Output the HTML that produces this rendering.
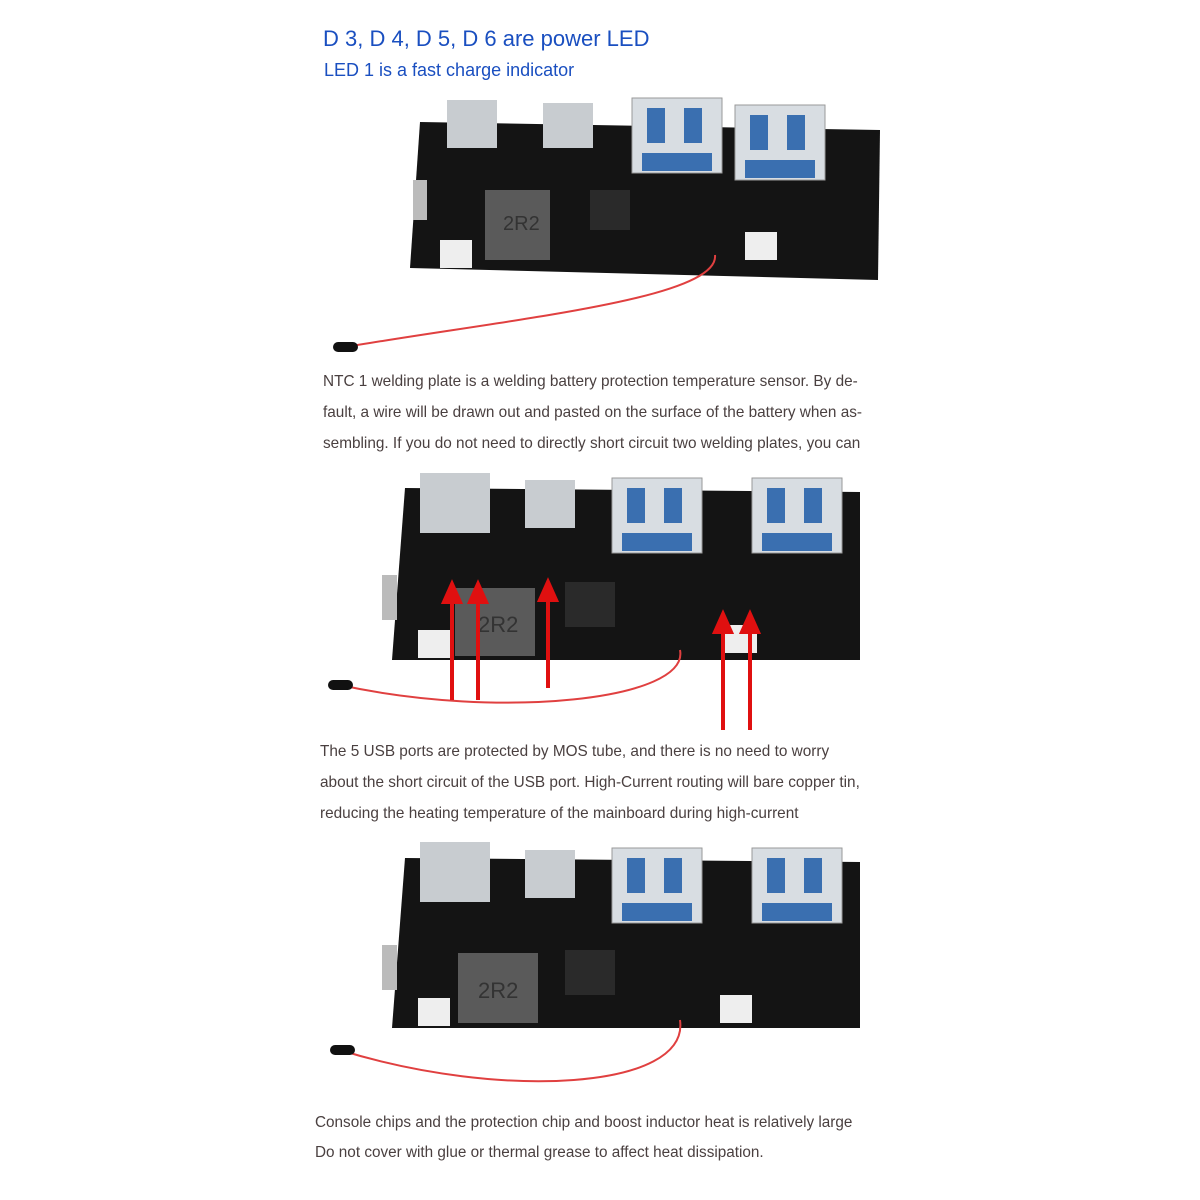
<!DOCTYPE html>
<html><head><meta charset="utf-8"><style>
body{margin:0;background:#fff;width:1200px;height:1200px;overflow:hidden;position:relative;font-family:"Liberation Sans",sans-serif}
.t{position:absolute;color:#4a4040;font-size:15.35px;white-space:nowrap}
</style></head><body>
<svg width="1200" height="1200" style="position:absolute;left:0;top:0">
<defs>
<g id="port">
<rect x="0" y="0" width="90" height="75" fill="#d8dde2" stroke="#999"/>
<rect x="15" y="10" width="18" height="35" fill="#3a6fb0"/><rect x="52" y="10" width="18" height="35" fill="#3a6fb0"/>
<rect x="10" y="55" width="70" height="18" fill="#3a6fb0"/>
</g>
</defs>
<!-- board 1 -->
<polygon points="420,122 880,130 878,280 410,268" fill="#141414"/>
<rect x="447" y="100" width="50" height="48" fill="#c8ccd0"/>
<rect x="543" y="103" width="50" height="45" fill="#c8ccd0"/>
<use href="#port" x="632" y="98"/>
<use href="#port" x="735" y="105"/>
<rect x="485" y="190" width="65" height="70" fill="#5a5a5a"/><text x="503" y="230" fill="#333" font-size="20">2R2</text>
<rect x="590" y="190" width="40" height="40" fill="#2a2a2a"/>
<rect x="440" y="240" width="32" height="28" fill="#eee"/><rect x="745" y="232" width="32" height="28" fill="#eee"/>
<rect x="413" y="180" width="14" height="40" fill="#bbb"/>
<path d="M715,255 C720,300 500,320 340,348" stroke="#e04040" stroke-width="2" fill="none"/>
<rect x="333" y="342" width="25" height="10" rx="5" fill="#111"/>
<!-- board 2 -->
<polygon points="405,488 860,492 860,660 392,660" fill="#141414"/>
<rect x="420" y="473" width="70" height="60" fill="#c8ccd0"/>
<rect x="525" y="480" width="50" height="48" fill="#c8ccd0"/>
<use href="#port" x="612" y="478"/>
<use href="#port" x="752" y="478"/>
<rect x="455" y="588" width="80" height="68" fill="#5a5a5a"/><text x="478" y="632" fill="#333" font-size="22">2R2</text>
<rect x="565" y="582" width="50" height="45" fill="#2a2a2a"/>
<rect x="418" y="630" width="32" height="28" fill="#eee"/><rect x="725" y="625" width="32" height="28" fill="#eee"/>
<rect x="382" y="575" width="15" height="45" fill="#bbb"/>
<path d="M680,650 C690,700 500,720 340,685" stroke="#e04040" stroke-width="2" fill="none"/>
<rect x="328" y="680" width="25" height="10" rx="5" fill="#111"/>
<g stroke="#e01010" stroke-width="4" fill="#e01010">
<line x1="452" y1="700" x2="452" y2="600"/><polygon points="444,602 460,602 452,584"/>
<line x1="478" y1="700" x2="478" y2="600"/><polygon points="470,602 486,602 478,584"/>
<line x1="548" y1="688" x2="548" y2="598"/><polygon points="540,600 556,600 548,582"/>
<line x1="723" y1="730" x2="723" y2="630"/><polygon points="715,632 731,632 723,614"/>
<line x1="750" y1="730" x2="750" y2="630"/><polygon points="742,632 758,632 750,614"/>
</g>
<!-- board 3 -->
<polygon points="405,858 860,862 860,1028 392,1028" fill="#141414"/>
<rect x="420" y="842" width="70" height="60" fill="#c8ccd0"/>
<rect x="525" y="850" width="50" height="48" fill="#c8ccd0"/>
<use href="#port" x="612" y="848"/>
<use href="#port" x="752" y="848"/>
<rect x="458" y="953" width="80" height="70" fill="#5a5a5a"/><text x="478" y="998" fill="#333" font-size="22">2R2</text>
<rect x="565" y="950" width="50" height="45" fill="#2a2a2a"/>
<rect x="418" y="998" width="32" height="28" fill="#eee"/><rect x="720" y="995" width="32" height="28" fill="#eee"/>
<rect x="382" y="945" width="15" height="45" fill="#bbb"/>
<path d="M680,1020 C690,1090 500,1100 340,1050" stroke="#e04040" stroke-width="2" fill="none"/>
<rect x="330" y="1045" width="25" height="10" rx="5" fill="#111"/>
</svg>
<div class="t" style="left:323px;top:26px;color:#1a4fc0;font-size:22px">D 3, D 4, D 5, D 6 are power LED</div>
<div class="t" style="left:324px;top:60px;color:#1a4fc0;font-size:18px">LED 1 is a fast charge indicator</div>
<div class="t" style="left:323px;top:373px">NTC 1 welding plate is a welding battery protection temperature sensor. By de-</div>
<div class="t" style="left:323px;top:404px">fault, a wire will be drawn out and pasted on the surface of the battery when as-</div>
<div class="t" style="left:323px;top:435px">sembling. If you do not need to directly short circuit two welding plates, you can</div>
<div class="t" style="left:320px;top:743px">The 5 USB ports are protected by MOS tube, and there is no need to worry</div>
<div class="t" style="left:320px;top:774px">about the short circuit of the USB port. High-Current routing will bare copper tin,</div>
<div class="t" style="left:320px;top:805px">reducing the heating temperature of the mainboard during high-current</div>
<div class="t" style="left:315px;top:1114px;font-size:15.3px">Console chips and the protection chip and boost inductor heat is relatively large</div>
<div class="t" style="left:315px;top:1144px;font-size:15.3px">Do not cover with glue or thermal grease to affect heat dissipation.</div>
</body></html>
